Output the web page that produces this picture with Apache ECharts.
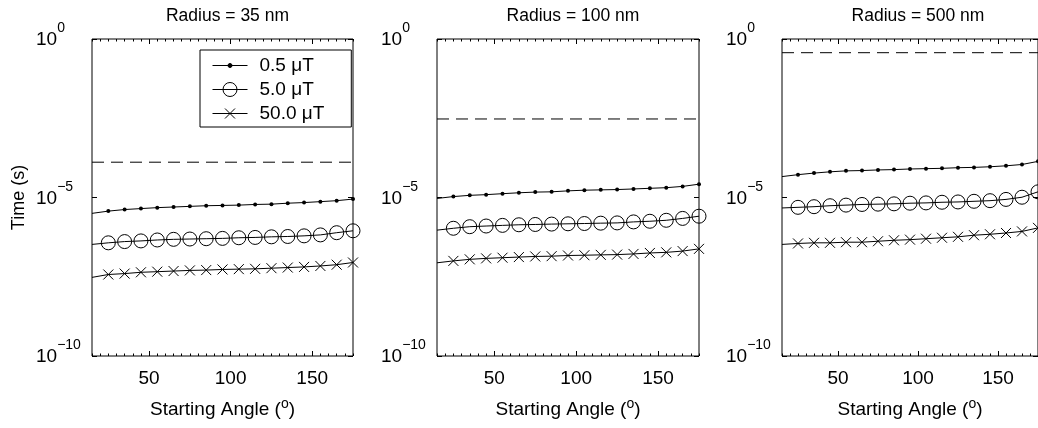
<!DOCTYPE html>
<html><head><meta charset="utf-8">
<script src="https://cdn.jsdelivr.net/npm/echarts@6/dist/echarts.min.js"></script>
<style>html,body{margin:0;padding:0;background:#fff}#c{width:1038px;height:428px}</style>
</head><body><div id="c"></div>
<script>
const angles = [15,25,35,45,55,65,75,85,95,105,115,125,135,145,155,165,175];
const panelTitles = ['Radius = 35 nm','Radius = 100 nm','Radius = 500 nm'];
const fieldNames = ['0.5 \u03bcT','5.0 \u03bcT','50.0 \u03bcT'];
const xTickValues = [50,100,150];
const yTickValues = [1e-10,1e-5,1];
const thresholds = [1.3e-4, 3.0e-3, 0.37];

const r35_05 = [3.16e-6,3.72e-6,4.17e-6,4.47e-6,4.79e-6,5.01e-6,5.25e-6,5.50e-6,5.62e-6,5.75e-6,6.03e-6,6.17e-6,6.61e-6,6.92e-6,7.41e-6,7.94e-6,8.91e-6];
const r35_5  = [3.31e-7,3.72e-7,4.07e-7,4.27e-7,4.57e-7,4.79e-7,4.90e-7,5.01e-7,5.13e-7,5.37e-7,5.50e-7,5.75e-7,5.89e-7,6.17e-7,6.61e-7,7.76e-7,8.91e-7];
const r35_50 = [3.02e-8,3.72e-8,3.98e-8,4.37e-8,4.57e-8,4.79e-8,5.01e-8,5.13e-8,5.37e-8,5.50e-8,5.62e-8,5.89e-8,6.17e-8,6.46e-8,6.92e-8,7.59e-8,8.91e-8];

const r100_05 = [9.33e-6,1.07e-5,1.17e-5,1.23e-5,1.32e-5,1.41e-5,1.48e-5,1.51e-5,1.62e-5,1.70e-5,1.74e-5,1.78e-5,1.86e-5,1.95e-5,2.04e-5,2.24e-5,2.63e-5];
const r100_5  = [9.33e-7,1.07e-6,1.20e-6,1.26e-6,1.32e-6,1.38e-6,1.41e-6,1.45e-6,1.48e-6,1.51e-6,1.55e-6,1.58e-6,1.70e-6,1.78e-6,1.91e-6,2.19e-6,2.57e-6];
const r100_50 = [8.71e-8,1.00e-7,1.12e-7,1.20e-7,1.26e-7,1.32e-7,1.38e-7,1.41e-7,1.48e-7,1.51e-7,1.55e-7,1.58e-7,1.66e-7,1.78e-7,1.86e-7,2.04e-7,2.40e-7];

const r500_05 = [4.57e-5,5.25e-5,5.89e-5,6.46e-5,6.92e-5,7.08e-5,7.41e-5,7.59e-5,7.94e-5,8.13e-5,8.32e-5,8.71e-5,8.91e-5,9.33e-5,1.00e-4,1.10e-4,1.38e-4];
const r500_5  = [4.68e-6,4.90e-6,5.13e-6,5.50e-6,5.75e-6,6.03e-6,6.17e-6,6.31e-6,6.61e-6,6.76e-6,7.08e-6,7.24e-6,7.59e-6,7.94e-6,8.71e-6,1.02e-5,1.51e-5];
const r500_50 = [3.31e-7,3.55e-7,3.72e-7,3.72e-7,3.89e-7,3.89e-7,4.17e-7,4.47e-7,4.68e-7,5.01e-7,5.37e-7,5.75e-7,6.46e-7,6.92e-7,7.59e-7,8.51e-7,1.10e-6];

const panels = [[r35_05,r35_5,r35_50],[r100_05,r100_5,r100_50],[r500_05,r500_5,r500_50]];

const FONT = 'Liberation Sans, Arial, Helvetica, sans-serif';
const gridRects = [{left:92,width:261},{left:437,width:262},{left:782,width:262}];
const X_MIN = 15, X_MAX = 175;

const symbolDefs = [
  {symbol:'circle', symbolSize:4, itemStyle:{color:'#000'}},
  {symbol:'circle', symbolSize:14, itemStyle:{color:'rgba(0,0,0,0)', borderColor:'#000', borderWidth:1}},
  {symbol:'path://M0,0L10,10M0,10L10,0', symbolSize:10, itemStyle:{color:'rgba(0,0,0,0)', borderColor:'#000', borderWidth:1}}
];
// legend icons: line sample with the marker drawn on it (35 wide)
const legendIcons = [
  'path://M0,2L35,2M19.5,2A2,2,0,1,1,15.5,2A2,2,0,1,1,19.5,2Z',
  'path://M0,7L35,7M24.5,7A7,7,0,1,1,10.5,7A7,7,0,1,1,24.5,7Z',
  'path://M0,5L35,5M12.5,0L22.5,10M12.5,10L22.5,0'
];

const grids = [], xAxes = [], yAxes = [], series = [], titles = [];
gridRects.forEach((r, g) => {
  grids.push({left:r.left, width:r.width, top:39, height:317, show:true, borderColor:'#000', borderWidth:1, backgroundColor:'rgba(0,0,0,0)'});
  titles.push({text: panelTitles[g], left: r.left + r.width/2, top: 2, textAlign:'center',
    textStyle:{fontSize:17.5, fontWeight:'normal', color:'#000', fontFamily:FONT}});
  const baseX = {type:'value', gridIndex:g, min:X_MIN, max:X_MAX, splitLine:{show:false},
    axisLine:{show:false, onZero:false}};
  xAxes.push(Object.assign({}, baseX, {position:'bottom',
    axisTick:{inside:true, length:5, customValues:xTickValues, lineStyle:{color:'#000'}},
    axisLabel:{customValues:xTickValues, margin:13, fontSize:19, color:'#000', fontFamily:FONT},
    name:'{a|Starting Angle (}{s|o}{a|)}', nameLocation:'middle', nameGap:44,
    nameTextStyle:{fontSize:19, color:'#000', fontFamily:FONT,
      rich:{a:{fontSize:19, lineHeight:19, color:'#000', fontFamily:FONT, verticalAlign:'bottom'},
            s:{fontSize:14, lineHeight:14, color:'#000', fontFamily:FONT, verticalAlign:'bottom', padding:[0,0,8,0]}}}}));
  xAxes.push(Object.assign({}, baseX, {position:'bottom', interval:5,
    axisTick:{inside:true, length:2.5, lineStyle:{color:'#000'}}, axisLabel:{show:false}}));
  xAxes.push(Object.assign({}, baseX, {position:'top',
    axisTick:{inside:true, length:5, customValues:xTickValues, lineStyle:{color:'#000'}}, axisLabel:{show:false}}));
  xAxes.push(Object.assign({}, baseX, {position:'top', interval:5,
    axisTick:{inside:true, length:2.5, lineStyle:{color:'#000'}}, axisLabel:{show:false}}));
  const baseY = {type:'log', logBase:10, gridIndex:g, min:1e-10, max:1, splitLine:{show:false},
    axisLine:{show:false, onZero:false}};
  const yl = Object.assign({}, baseY, {position:'left',
    axisTick:{inside:true, length:5, customValues:yTickValues, lineStyle:{color:'#000'}},
    axisLabel:{customValues:yTickValues, align:'left', margin:56, padding:[2,0,0,0],
      formatter: v => { const e = Math.round(Math.log10(v)); return '{b|10}{s|' + (e < 0 ? '\u2212' + (-e) : e) + '}'; },
      rich:{b:{fontSize:19, lineHeight:19, color:'#000', fontFamily:FONT, verticalAlign:'bottom'},
            s:{fontSize:14, lineHeight:14, color:'#000', fontFamily:FONT, verticalAlign:'bottom', padding:[0,0,14,0]}}}});
  if (g === 0) {
    Object.assign(yl, {name:'Time (s)', nameLocation:'middle', nameGap:64,
      nameTextStyle:{fontSize:18, color:'#000', fontFamily:FONT}});
  }
  yAxes.push(yl);
  yAxes.push(Object.assign({}, baseY, {position:'right',
    axisTick:{inside:true, length:5, customValues:yTickValues, lineStyle:{color:'#000'}}, axisLabel:{show:false}}));

  panels[g].forEach((vals, f) => {
    series.push(Object.assign({
      type:'line', name: fieldNames[f], xAxisIndex: g*4, yAxisIndex: g*2,
      showAllSymbol:true, animation:false, clip:true,
      lineStyle:{color:'#000', width:1},
      data: angles.map((a, i) => i === 0 ? {value:[a, vals[i]], symbol:'none'} : [a, vals[i]])
    }, symbolDefs[f]));
  });
  series.push({type:'line', name:'limit', xAxisIndex:g*4, yAxisIndex:g*2, symbol:'none', animation:false,
    lineStyle:{color:'#000', width:1, type:[12,7]},
    data:[[X_MIN, thresholds[g]],[X_MAX, thresholds[g]]]});
});

const chart = echarts.init(document.getElementById('c'), null, {renderer:'canvas'});
chart.setOption({
  backgroundColor:'#fff',
  animation:false,
  title: titles,
  grid: grids,
  xAxis: xAxes,
  yAxis: yAxes,
  legend: {data: fieldNames.map((n, i) => ({name:n, icon:legendIcons[i]})),
    orient:'vertical', left:200, top:50, itemWidth:35, itemHeight:14, itemGap:5, symbolKeepAspect:true,
    padding:[6,27,4,12], borderColor:'#000', borderWidth:1, backgroundColor:'#fff',
    itemStyle:{borderColor:'#000', borderWidth:1},
    textStyle:{fontSize:19, color:'#000', fontFamily:FONT, padding:[0,0,0,7]}},
  series: series
});
</script></body></html>
